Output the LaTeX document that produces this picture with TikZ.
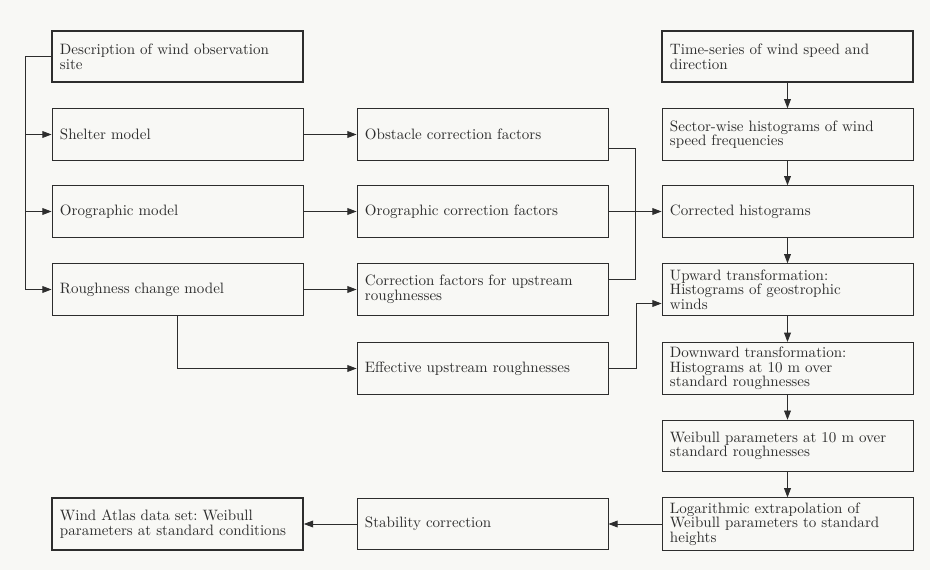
\documentclass[tikz,border=0pt]{standalone}
\usetikzlibrary{arrows.meta}
\definecolor{paper}{RGB}{248,248,245}
\definecolor{ink}{RGB}{45,45,45}
\begin{document}
\begin{tikzpicture}[>={Stealth[length=2.3mm,width=1.7mm,inset=0pt]},x=0.025cm,y=-0.025cm,
	box/.style={draw=ink,line width=0.6pt,text=ink,minimum width=6.275cm,minimum height=1.29cm,
		inner xsep=0.2cm,text width=5.875cm,align=left,font=\fontsize{10.7}{10.4}\selectfont\frenchspacing},
	keybox/.style={box,line width=1.2pt},
	link/.style={ink,line width=0.6pt}]
	\fill[paper] (0,0) rectangle (930,570);
	\useasboundingbox (0,0) rectangle (930,570);
	% left column
	\node[keybox] (site) at (177.5,56.5) {Description of wind observation\\site};
	\node[box] (shelter) at (177.5,134.5) {Shelter model};
	\node[box] (orog) at (177.5,211.5) {Orographic model};
	\node[box] (rough) at (177.5,289.5) {Roughness change model};
	\node[keybox] (atlas) at (177.5,524) {Wind Atlas data set: Weibull\\parameters at standard conditions};
	% middle column
	\node[box] (obst) at (482.5,134.5) {Obstacle correction factors};
	\node[box] (orogcf) at (482.5,211.5) {Orographic correction factors};
	\node[box] (upcf) at (482.5,289.5) {Correction factors for upstream\\roughnesses};
	\node[box] (eff) at (482.5,368.5) {Effective upstream roughnesses};
	\node[box] (stab) at (482.5,524) {Stability correction};
	% right column
	\node[keybox] (tser) at (787.5,56.5) {Time-series of wind speed and\\direction};
	\node[box] (sector) at (787.5,134.5) {Sector-wise histograms of wind\\speed frequencies};
	\node[box] (corr) at (787.5,211.5) {Corrected histograms};
	\node[box] (upw) at (787.5,289.5) {Upward transformation:\\Histograms of geostrophic\\winds};
	\node[box] (downw) at (787.5,368.5) {Downward transformation:\\Histograms at 10 m over\\standard roughnesses};
	\node[box] (weib) at (787.5,446) {Weibull parameters at 10 m over\\standard roughnesses};
	\node[box] (logx) at (787.5,524) {Logarithmic extrapolation of\\Weibull parameters to standard\\heights};
	% site description feeds the three models
	\coordinate (lbus) at (25,56.5);
	\draw[link] (site.west) -- (lbus);
	\draw[link,->] (lbus) |- (rough.west);
	\draw[link,->] (lbus|-shelter.west) -- (shelter.west);
	\draw[link,->] (lbus|-orog.west) -- (orog.west);
	\draw[link,->] (shelter) -- (obst);
	\draw[link,->] (orog) -- (orogcf);
	\draw[link,->] (rough) -- (upcf);
	\draw[link,->] (rough.south) |- (eff.west);
	% corrections gathered into the histograms
	\coordinate (rbus) at (635,211.5);
	\draw[link] (obst.east) ++(0,14) -| (rbus);
	\draw[link] (upcf.east) ++(0,-10) -| (rbus);
	\draw[link,->] (orogcf) -- (corr);
	\draw[link,->] (eff.east) -- ++(28,0) |- ([yshift=-0.35cm]upw.west);
	% main chain
	\draw[link,->] (tser) -- (sector);
	\draw[link,->] (sector) -- (corr);
	\draw[link,->] (corr) -- (upw);
	\draw[link,->] (upw) -- (downw);
	\draw[link,->] (downw) -- (weib);
	\draw[link,->] (weib) -- (logx);
	\draw[link,->] (logx) -- (stab);
	\draw[link,->] (stab) -- (atlas);
\end{tikzpicture}
\end{document}
